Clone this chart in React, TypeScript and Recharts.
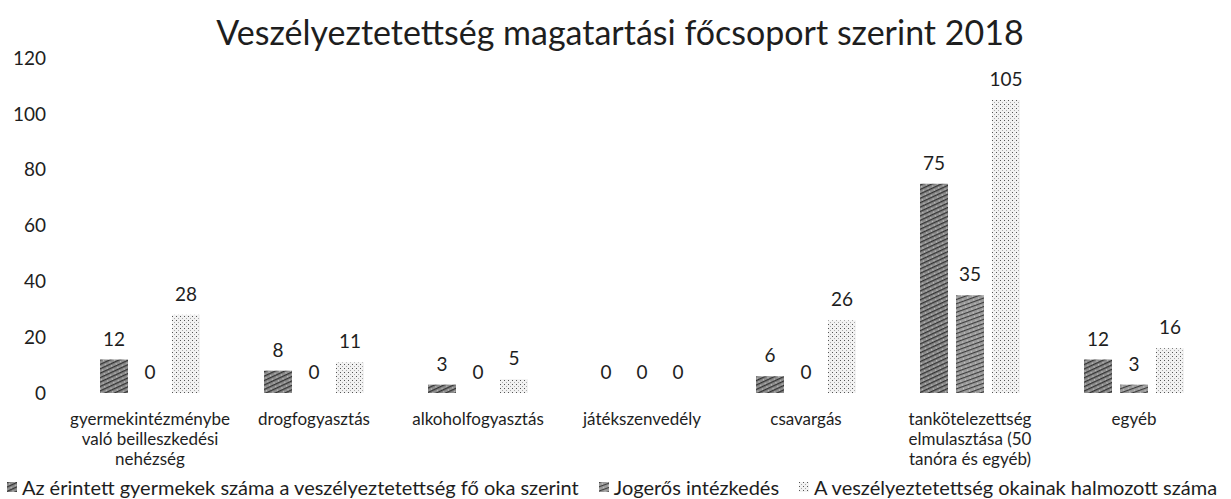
import React from 'react';
import { BarChart, Bar, XAxis, YAxis, Legend, LabelList, Text } from 'recharts';

const categories = [
  'gyermekintézménybe való beilleszkedési nehézség',
  'drogfogyasztás',
  'alkoholfogyasztás',
  'játékszenvedély',
  'csavargás',
  'tankötelezettség elmulasztása (50 tanóra és egyéb)',
  'egyéb',
];
const affected = [12, 8, 3, 0, 6, 75, 12];
const finalMeasures = [0, 0, 0, 0, 0, 35, 3];
const cumulative = [28, 11, 5, 0, 26, 105, 16];
const yTicks = [0, 20, 40, 60, 80, 100, 120];

const seriesNames = [
  'Az érintett gyermekek száma a veszélyeztetettség fő oka szerint',
  'Jogerős intézkedés',
  'A veszélyeztetettség okainak halmozott száma',
];
const patternIds = ['pat1', 'pat2', 'pat3'];

const data = categories.map((name, i) => ({
  name,
  affected: affected[i],
  finalMeasures: finalMeasures[i],
  cumulative: cumulative[i],
}));

const FONT = 'Lato, "Open Sans", sans-serif';
const INK = '#1e1e1e';
const labelStyle = { fontSize: 19, fontFamily: FONT, fill: INK };

const CategoryTick = (props: any) => {
  const { x, y, payload } = props;
  return (
    <Text
      x={x}
      y={y}
      width={160}
      textAnchor="middle"
      verticalAnchor="start"
      lineHeight={20}
      style={{ fontSize: 17, fontFamily: FONT }}
      fill={INK}
    >
      {payload.value}
    </Text>
  );
};

const renderLegend = () => (
  <div
    style={{
      display: 'flex',
      justifyContent: 'center',
      alignItems: 'center',
      gap: 20,
      paddingLeft: 8,
      height: 24,
      fontFamily: FONT,
      fontSize: 20,
      lineHeight: '24px',
      color: INK,
      whiteSpace: 'nowrap',
    }}
  >
    {seriesNames.map((n, i) => (
      <span key={n} style={{ display: 'inline-flex', alignItems: 'center' }}>
        <svg width={10} height={10} style={{ marginRight: 5 }}>
          <rect width={10} height={10} fill={`url(#${patternIds[i]})`} />
        </svg>
        {n}
      </span>
    ))}
  </div>
);

export default function App() {
  return (
    <div style={{ position: 'absolute', left: 0, top: 0, width: 1231, height: 499, background: '#fff' }}>
      <div
        style={{
          position: 'absolute',
          left: 0,
          top: 12,
          width: 1240,
          textAlign: 'center',
          fontFamily: FONT,
          fontSize: 34,
          lineHeight: '40px',
          color: INK,
        }}
      >
        Veszélyeztetettség magatartási főcsoport szerint 2018
      </div>
      <BarChart
        width={1231}
        height={499}
        data={data}
        margin={{ top: 58, right: 15, left: 0, bottom: 0 }}
        barSize={28}
        barGap={8}
      >
        <defs>
          <pattern id="pat1" width="5" height="4" patternUnits="userSpaceOnUse" patternTransform="rotate(-25)">
            <rect width="5" height="4" fill="#8e8e8e" />
            <rect y="0" width="5" height="1.3" fill="#333" />
            <rect x="1" y="2.4" width="1" height="1" fill="#d8d8d8" />
          </pattern>
          <pattern id="pat2" width="5" height="4" patternUnits="userSpaceOnUse" patternTransform="rotate(-20)">
            <rect width="5" height="4" fill="#9c9c9c" />
            <rect y="0" width="5" height="1.1" fill="#3d3d3d" />
            <rect x="2" y="2.4" width="1" height="1" fill="#dcdcdc" />
          </pattern>
          <pattern id="pat3" width="4" height="4" patternUnits="userSpaceOnUse">
            <rect width="4" height="4" fill="#f2f2f2" />
            <rect x="0" y="0" width="1" height="1" fill="#555" />
            <rect x="2" y="2" width="1" height="1" fill="#aaa" />
          </pattern>
        </defs>
        <XAxis
          dataKey="name"
          axisLine={false}
          tickLine={false}
          interval={0}
          height={82}
          tickMargin={14}
          tick={<CategoryTick />}
        />
        <YAxis
          domain={[0, 120]}
          ticks={yTicks}
          width={68}
          axisLine={false}
          tickLine={false}
          tickMargin={16}
          tick={{ fontSize: 19, fontFamily: FONT, fill: INK }}
        />
        <Legend content={renderLegend} wrapperStyle={{ height: 24 }} />
        <Bar dataKey="affected" name={seriesNames[0]} fill="url(#pat1)" minPointSize={0.01} isAnimationActive={false}>
          <LabelList dataKey="affected" position="top" offset={14} style={labelStyle} />
        </Bar>
        <Bar dataKey="finalMeasures" name={seriesNames[1]} fill="url(#pat2)" minPointSize={0.01} isAnimationActive={false}>
          <LabelList dataKey="finalMeasures" position="top" offset={14} style={labelStyle} />
        </Bar>
        <Bar dataKey="cumulative" name={seriesNames[2]} fill="url(#pat3)" minPointSize={0.01} isAnimationActive={false}>
          <LabelList dataKey="cumulative" position="top" offset={14} style={labelStyle} />
        </Bar>
      </BarChart>
    </div>
  );
}
